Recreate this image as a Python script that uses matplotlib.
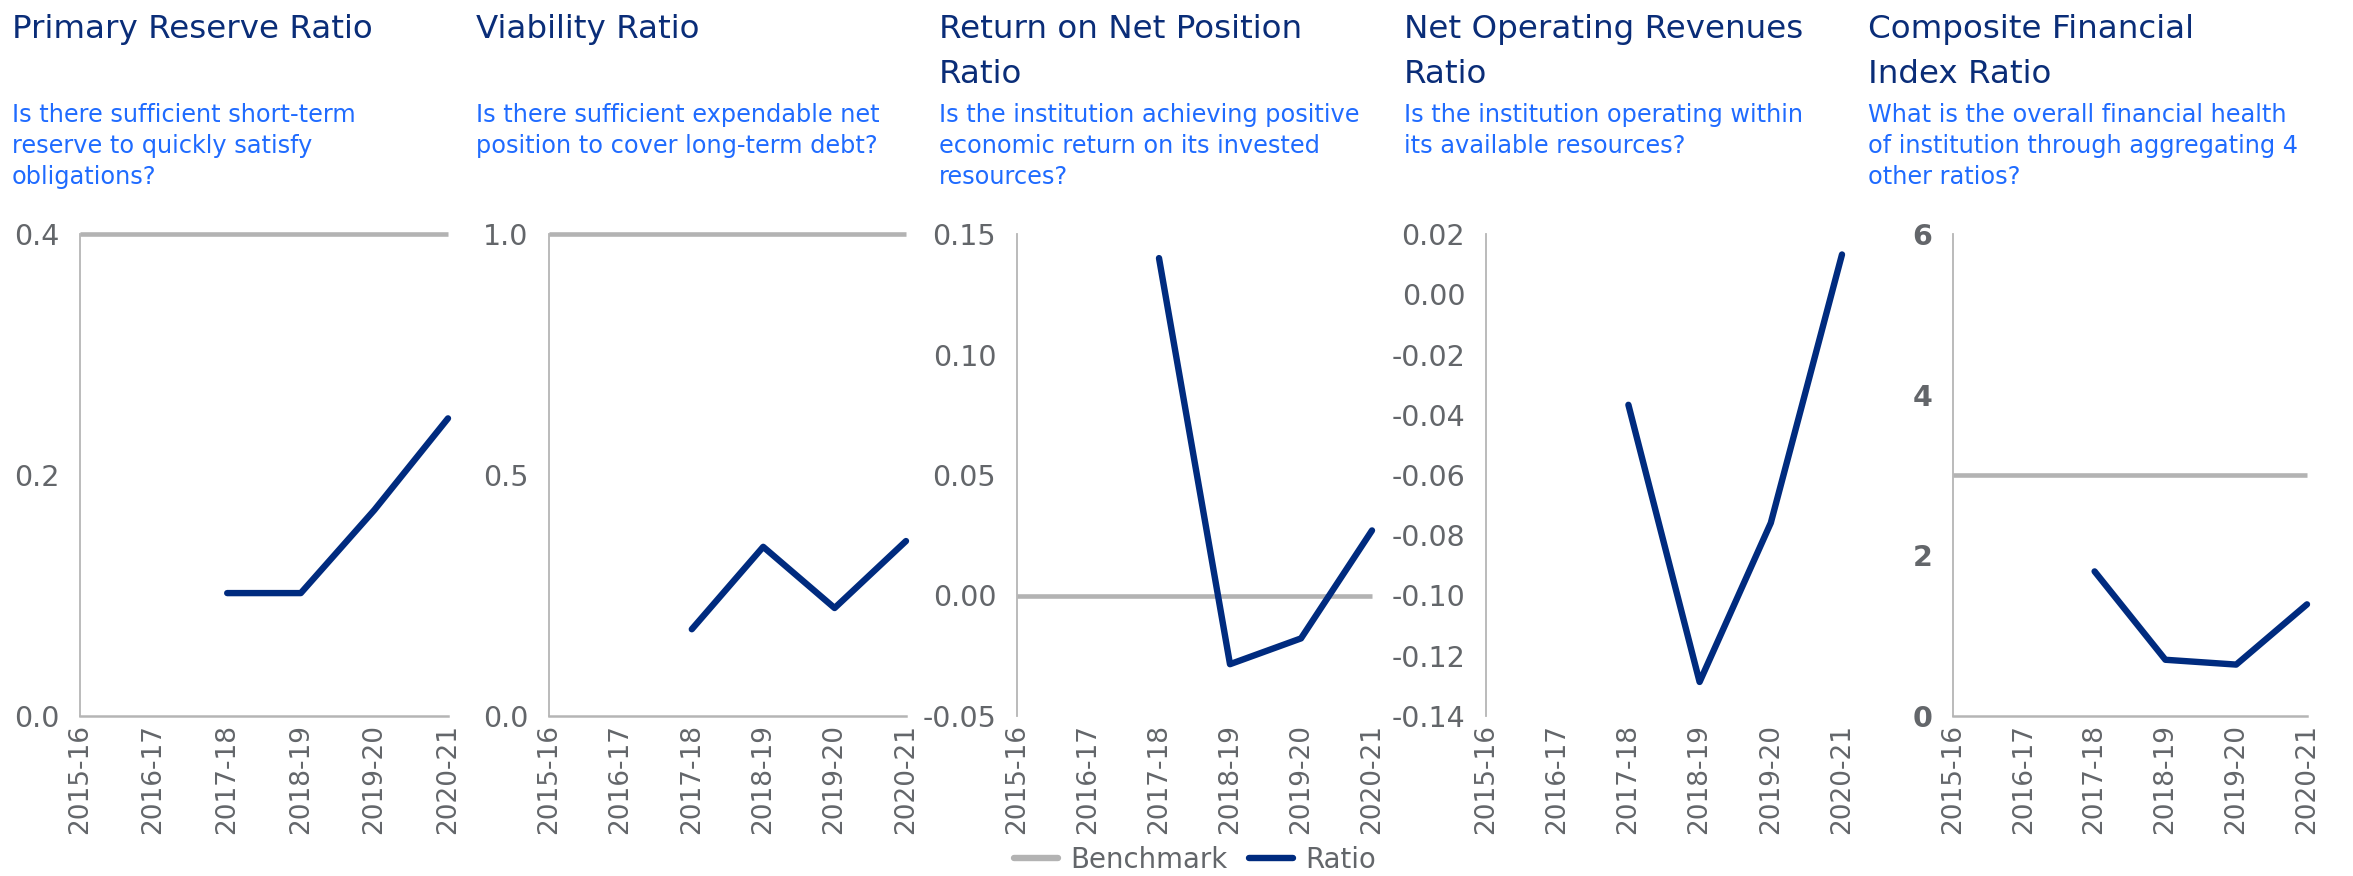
import matplotlib

matplotlib.use("Agg")
import matplotlib.pyplot as plt
import numpy as np
from matplotlib.lines import Line2D

TITLE_COLOR = "#0a2d78"
QUESTION_COLOR = "#1f6bff"
TICK_COLOR = "#63666a"
BENCHMARK_COLOR = "#b3b3b3"
RATIO_COLOR = "#002b7f"
SPINE_COLOR = "#b5b5b5"

years = ["2015-16", "2016-17", "2017-18", "2018-19", "2019-20", "2020-21"]

titles = [
    ["Primary Reserve Ratio"],
    ["Viability Ratio"],
    ["Return on Net Position", "Ratio"],
    ["Net Operating Revenues", "Ratio"],
    ["Composite Financial", "Index Ratio"],
]
questions = [
    ["Is there sufficient short-term", "reserve to quickly satisfy", "obligations?"],
    ["Is there sufficient expendable net", "position to cover long-term debt?"],
    ["Is the institution achieving positive", "economic return on its invested", "resources?"],
    ["Is the institution operating within", "its available resources?"],
    ["What is the overall financial health", "of institution through aggregating 4", "other ratios?"],
]

nan = np.nan
primary_reserve = [nan, nan, 0.102, 0.102, 0.171, 0.247]
viability = [nan, nan, 0.18, 0.351, 0.224, 0.363]
return_on_net_position = [nan, nan, 0.140, -0.0285, -0.0178, 0.027]
net_operating_revenues = [nan, nan, -0.0367, -0.1287, -0.0759, 0.0132]
composite_index = [nan, nan, 1.80, 0.70, 0.64, 1.39]

benchmarks = [0.4, 1.0, 0.0, nan, 3.0]
ratios = [primary_reserve, viability, return_on_net_position,
          net_operating_revenues, composite_index]

y_ticks = [
    [0.0, 0.2, 0.4],
    [0.0, 0.5, 1.0],
    [-0.05, 0.0, 0.05, 0.10, 0.15],
    [-0.14, -0.12, -0.10, -0.08, -0.06, -0.04, -0.02, 0.0, 0.02],
    [0, 2, 4, 6],
]
y_formats = ["{:.1f}", "{:.1f}", "{:.2f}", "{:.2f}", "{:.0f}"]

# pixel layout of each panel: plot-area left, plot-area width, text left
FIG_W, FIG_H = 2353, 876
plot_lefts = [80, 549, 1017, 1486, 1953]
plot_widths = [368, 357, 355, 356, 354]
text_lefts = [12, 476, 939, 1404, 1868]
plot_top, plot_bottom = 234, 716
bottom_spine = [True, True, False, False, True]

plt.rcParams["font.family"] = ["DejaVu Sans"]

fig = plt.figure(figsize=(FIG_W / 100, FIG_H / 100), dpi=100)

for i in range(5):
    ax = fig.add_axes([
        plot_lefts[i] / FIG_W,
        1 - plot_bottom / FIG_H,
        plot_widths[i] / FIG_W,
        (plot_bottom - plot_top) / FIG_H,
    ])
    x = np.arange(len(years))
    ax.plot(x, [benchmarks[i]] * len(years), color=BENCHMARK_COLOR,
            linewidth=3.3, solid_capstyle="butt", clip_on=False, zorder=3)
    ax.plot(x, ratios[i], color=RATIO_COLOR, linewidth=4.6,
            solid_capstyle="round", solid_joinstyle="round", clip_on=False,
            zorder=4)

    ax.set_xlim(0, len(years) - 1)
    ax.set_ylim(y_ticks[i][0], y_ticks[i][-1])
    ax.set_xticks(x)
    ax.set_xticklabels(years, rotation=90, fontsize=19, color=TICK_COLOR)
    ax.set_yticks(y_ticks[i])
    ax.set_yticklabels([y_formats[i].format(v) for v in y_ticks[i]],
                       fontsize=20.5, color=TICK_COLOR,
                       fontweight="bold" if i == 4 else "normal")
    ax.tick_params(axis="both", length=0)
    ax.tick_params(axis="y", pad=15)
    ax.tick_params(axis="x", pad=6)

    for side in ["top", "right"]:
        ax.spines[side].set_visible(False)
    ax.spines["left"].set_color(SPINE_COLOR)
    ax.spines["left"].set_linewidth(1.3)
    ax.spines["bottom"].set_visible(bottom_spine[i])
    ax.spines["bottom"].set_color(SPINE_COLOR)
    ax.spines["bottom"].set_linewidth(1.8)

    for j, line in enumerate(titles[i]):
        fig.text(text_lefts[i] / FIG_W, 1 - (38 + 45 * j) / FIG_H, line,
                 fontsize=23.4, color=TITLE_COLOR, va="baseline", ha="left")
    for j, line in enumerate(questions[i]):
        fig.text(text_lefts[i] / FIG_W, 1 - (122 + 31 * j) / FIG_H, line,
                 fontsize=17.3, color=QUESTION_COLOR, va="baseline", ha="left")

handles = [
    Line2D([], [], color=BENCHMARK_COLOR, linewidth=4.6, solid_capstyle="round"),
    Line2D([], [], color=RATIO_COLOR, linewidth=4.6, solid_capstyle="round"),
]
fig.legend(handles, ["Benchmark", "Ratio"], loc="center",
           bbox_to_anchor=(1195 / FIG_W, 1 - 860 / FIG_H), ncol=2,
           frameon=False, fontsize=19.8, labelcolor=TICK_COLOR,
           handlelength=1.6, handletextpad=0.45, columnspacing=0.8,
           borderpad=0, borderaxespad=0)

fig.savefig("out.png", dpi=100)
plt.close(fig)
